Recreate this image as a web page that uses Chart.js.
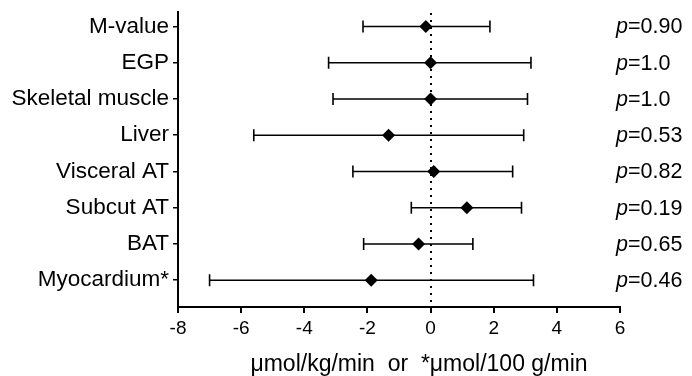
<!DOCTYPE html>
<html>
<head>
<meta charset="utf-8">
<script src="https://cdn.jsdelivr.net/npm/chart.js@4/dist/chart.umd.min.js"></script>
<style>
  html, body { margin: 0; padding: 0; background: #fff; }
  #wrap { width: 692px; height: 376px; }
</style>
</head>
<body>
<div id="wrap"><canvas id="forest-canvas"></canvas></div>
<script>
var categories = ['M-value', 'EGP', 'Skeletal muscle', 'Liver', 'Visceral AT', 'Subcut AT', 'BAT', 'Myocardium*'];
var estimates = [-0.15, 0.0, 0.0, -1.33, 0.1, 1.15, -0.38, -1.88];
var lowerCI = [-2.14, -3.23, -3.09, -5.6, -2.46, -0.61, -2.12, -7.0];
var upperCI = [1.88, 3.18, 3.07, 2.95, 2.6, 2.88, 1.34, 3.26];
var pValues = ['0.90', '1.0', '1.0', '0.53', '0.82', '0.19', '0.65', '0.46'];
var xTitle = '\u03bcmol/kg/min  or  *\u03bcmol/100 g/min';

var FONT = "'Liberation Sans', Arial, sans-serif";

// error bars, zero line, p-values and the axis title
var forestPlugin = {
    id: 'forest',
    beforeDatasetsDraw: function (chart) {
        var ctx = chart.ctx;
        var xs = chart.scales.x;
        var ys = chart.scales.y;
        var area = chart.chartArea;

        ctx.save();
        // dotted line at zero
        ctx.strokeStyle = '#000';
        ctx.lineWidth = 2;
        ctx.setLineDash([2, 5]);
        ctx.beginPath();
        var x0 = Math.round(xs.getPixelForValue(0));
        ctx.moveTo(x0, area.top + 1);
        ctx.lineTo(x0, area.bottom);
        ctx.stroke();
        ctx.setLineDash([]);

        ctx.lineWidth = 1.6;
        for (var i = 0; i < categories.length; i++) {
            var y = ys.getPixelForValue(i);
            var xl = xs.getPixelForValue(lowerCI[i]);
            var xh = xs.getPixelForValue(upperCI[i]);
            ctx.beginPath();
            ctx.moveTo(xl, y);
            ctx.lineTo(xh, y);
            ctx.moveTo(xl, y - 6);
            ctx.lineTo(xl, y + 6);
            ctx.moveTo(xh, y - 6);
            ctx.lineTo(xh, y + 6);
            ctx.stroke();
        }
        ctx.restore();
    },
    afterDraw: function (chart) {
        var ctx = chart.ctx;
        var ys = chart.scales.y;
        var area = chart.chartArea;
        var xText = area.right - 4;
        ctx.save();
        ctx.fillStyle = '#000';
        ctx.textBaseline = 'middle';
        ctx.textAlign = 'left';
        for (var i = 0; i < pValues.length; i++) {
            var y = ys.getPixelForValue(i) + 1;
            ctx.font = 'italic 21.5px ' + FONT;
            ctx.fillText('p', xText, y);
            var w = ctx.measureText('p').width;
            ctx.font = '21.5px ' + FONT;
            ctx.fillText('=' + pValues[i], xText + w, y);
        }

        // x axis title, sits a little right of the plot centre
        ctx.font = '23px ' + FONT;
        ctx.textAlign = 'center';
        ctx.textBaseline = 'alphabetic';
        ctx.fillText(xTitle, (area.left + area.right) / 2 + 20, chart.height - 5);
        ctx.restore();
    }
};

var points = estimates.map(function (v, i) { return { x: v, y: i }; });

var ctx = document.getElementById('forest-canvas').getContext('2d');
window.forestChart = new Chart(ctx, {
    type: 'scatter',
    data: {
        datasets: [{
            data: points,
            pointStyle: 'rectRot',
            pointRadius: 6.5,
            pointHoverRadius: 6.5,
            backgroundColor: '#000',
            borderColor: '#000',
            borderWidth: 0
        }]
    },
    options: {
        responsive: true,
        maintainAspectRatio: false,
        animation: false,
        events: [],
        layout: {
            padding: { top: 12, right: 72, left: 0, bottom: 0 }
        },
        plugins: {
            legend: { display: false },
            tooltip: { enabled: false }
        },
        scales: {
            x: {
                type: 'linear',
                min: -8,
                max: 6,
                afterFit: function (scale) {
                    scale.height = 69;
                    scale.paddingLeft = 0;
                    scale.paddingRight = 0;
                },
                border: { color: '#000', width: 2 },
                grid: { drawOnChartArea: false, drawTicks: true, tickLength: 6, color: '#000', lineWidth: 2 },
                ticks: {
                    stepSize: 2,
                    color: '#000',
                    padding: 4,
                    maxRotation: 0,
                    font: { family: FONT, size: 19 }
                }
            },
            y: {
                type: 'linear',
                reverse: true,
                min: -0.4,
                max: 7.74,
                afterFit: function (scale) {
                    scale.width = 178;
                    scale.paddingTop = 0;
                    scale.paddingBottom = 0;
                },
                border: { color: '#000', width: 2 },
                grid: { drawOnChartArea: false, drawTicks: true, tickLength: 5, color: '#000', lineWidth: 1.5 },
                ticks: {
                    stepSize: 1,
                    includeBounds: false,
                    autoSkip: false,
                    color: '#000',
                    padding: 4,
                    font: { family: FONT, size: 22.5 },
                    callback: function (value) { return categories[value] !== undefined ? categories[value] : ''; }
                }
            }
        }
    },
    plugins: [forestPlugin]
});
</script>
</body>
</html>
